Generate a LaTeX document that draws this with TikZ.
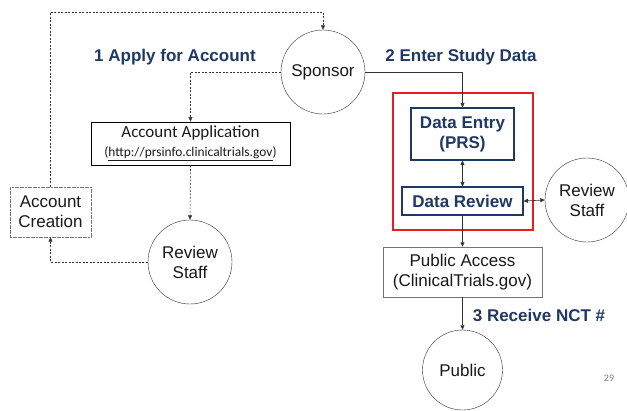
\documentclass[tikz,border=0pt]{standalone}
\usepackage{fontspec}
\setmainfont{Liberation Sans}
\newfontfamily\calfont{Carlito}
\usetikzlibrary{arrows.meta}
\definecolor{navy}{RGB}{31,56,100}
\definecolor{boxred}{RGB}{232,30,30}
\tikzset{
  txt/.style={font=\fontsize{17}{20}\selectfont, align=center, text=black!90},
  head/.style={font=\bfseries\fontsize{17}{20}\selectfont, text=navy},
  party/.style={txt, draw=black!80, circle, minimum size=84pt, inner sep=0pt, fill=white},
  plainbox/.style={txt, draw=black!55, rectangle, fill=white, inner sep=0pt},
  prsbox/.style={draw=navy, line width=1.1pt, rectangle, inner sep=0pt, fill=white,
    font=\bfseries\fontsize{17}{20}\selectfont, text=navy, align=center},
  flow/.style={draw=black!80, line width=0.6pt, -{Triangle[length=4.5pt,width=4pt]}},
  loose/.style={flow, dash pattern=on 2pt off 1.5pt},
  both/.style={flow, {Triangle[length=4.5pt,width=4pt]}-{Triangle[length=4.5pt,width=4pt]}}
}
\begin{document}
\begin{tikzpicture}[x=1pt,y=-1pt]
\useasboundingbox (0,0) rectangle (627,410);

% account side
\node[party] (sponsor) at (323,72) {Sponsor};
\node[plainbox, draw=black, line width=0.8pt, minimum width=199pt, minimum height=43pt] (accapp) at (190.5,143.5)
  {\calfont\fontsize{17}{19}\selectfont Account Application\\[-1pt]
   \calfont\fontsize{13.4}{15}\selectfont (\underline{http://prsinfo.clinicaltrials.gov})};
\node[party] (staffL) at (190,262) {Review\\Staff};
\node[plainbox, dash pattern=on 2pt off 0.6pt, minimum width=81pt, minimum height=50pt] (create) at (50.5,212) {Account\\Creation};
\coordinate (top) at (0,12);

\node[head] (apply) at (175,57) {1 Apply for Account};
\node[head] (enter) at (461,57) {2 Enter Study Data};

% study data side
\node[draw=boxred, line width=1.4pt, minimum width=140pt, minimum height=137pt, inner sep=0pt] (prs) at (463,161.5) {};
\node[prsbox, minimum width=103pt, minimum height=52pt] (entry) at (462.5,134) {Data Entry\\(PRS)};
\node[prsbox, minimum width=121pt, minimum height=28pt] (review) at (462.5,201) {Data Review};
\node[party] (staffR) at (587,200) {Review\\Staff};
\node[plainbox, minimum width=159pt, minimum height=50pt] (pa) at (462.5,272) {Public Access\\(ClinicalTrials.gov)};
\node[party, minimum size=80pt] (pub) at (462.5,370) {Public};
\node[head] (nct) at (539,315) {3 Receive NCT \#};
\node[font=\calfont\fontsize{10}{12}\selectfont, text=black!50] (page) at (609,378) {29};

% connectors
\draw[loose] (create.north) |- (top -| sponsor) -- (sponsor.north);
\draw[loose] (sponsor.west) -| (accapp.north);
\draw[loose] (accapp.south) -- (staffL.north);
\draw[loose] (staffL.west) -| (create.south);
\draw[flow] (sponsor.east) -| (entry.north);
\draw[both] (entry.south) -- (review.north);
\draw[both] (review.east) -- (staffR.west);
\draw[flow] (review.south) -- (pa.north);
\draw[flow] (pa.south) -- (pub.north);
\end{tikzpicture}
\end{document}
